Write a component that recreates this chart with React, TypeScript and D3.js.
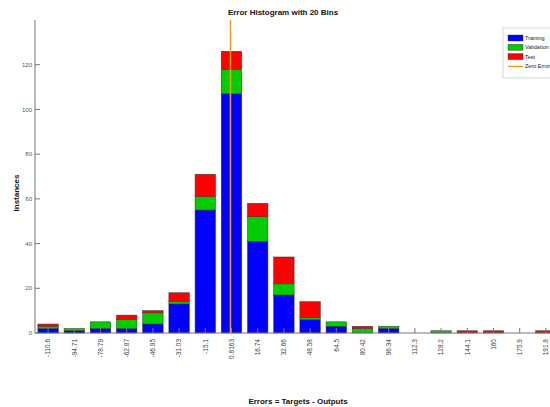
import React from "react";
import * as d3 from "d3";

const binLabels = ["-110.6","-94.71","-78.79","-62.87","-46.95","-31.03","-15.1","0.8163","16.74","32.66","48.58","64.5","80.42","96.34","112.3","128.2","144.1","160","175.9","191.8"];
const binCenters = [-110.6,-94.71,-78.79,-62.87,-46.95,-31.03,-15.1,0.8163,16.74,32.66,48.58,64.5,80.42,96.34,112.3,128.2,144.1,160,175.9,191.8];
const training = [2,1,2,2,4,13,55,107,41,17,6,3,0,2,0,0,0,0,0,0];
const validation = [1,1,3,4,5,1,6,11,11,5,1,2,2,1,0,1,0,0,0,0];
const test = [1,0,0,2,1,4,10,8,6,12,7,0,1,0,0,0,1,1,0,1];
const yTicks = [0,20,40,60,80,100,120];
const seriesNames = ["Training","Validation","Test"];
const seriesColors = ["#0000ff","#00cc00","#ff0000"];
const zeroColor = "#f0a020";

export default function App() {
  const W = 550, H = 407;
  const left = 35, right = 559, top = 20, bottom = 333;
  const x = d3.scaleBand<string>().domain(binLabels).range([left, right]).paddingInner(0.22).paddingOuter(0.11);
  const y = d3.scaleLinear().domain([0, 140]).range([bottom, top]);
  const step = x.step();
  const binW = binCenters[1] - binCenters[0];
  const xv = d3.scaleLinear().domain([binCenters[0], binCenters[0] + binW]).range([x(binLabels[0])! + x.bandwidth() / 2, x(binLabels[0])! + x.bandwidth() / 2 + step]);

  const rows = binLabels.map((b, i) => ({ bin: b, Training: training[i], Validation: validation[i], Test: test[i] }));
  const stack = d3.stack<any>().keys(seriesNames)(rows);
  const font = "Liberation Sans, Arial, sans-serif";

  return (
    <svg width={W} height={H} style={{ position: "absolute", left: 0, top: 0, background: "#fff" }} fontFamily={font}>
      <text x={283} y={15} textAnchor="middle" fontSize={8} fontWeight="bold" fill="#111">Error Histogram with 20 Bins</text>
      {stack.map((s, si) => (
        <g key={si} fill={seriesColors[si]}>
          {s.map((d, i) => d[1] - d[0] > 0 ? (
            <rect key={i} x={x(binLabels[i])} width={x.bandwidth()} y={y(d[1])} height={y(d[0]) - y(d[1])} stroke="#333" strokeWidth={0.5} />
          ) : null)}
        </g>
      ))}
      {/* axes */}
      <line x1={left} x2={left} y1={top} y2={bottom} stroke="#777" strokeWidth={1} />
      <line x1={left} x2={W} y1={bottom} y2={bottom} stroke="#777" strokeWidth={1} />
      {yTicks.map(t => (
        <g key={t}>
          <line x1={left} x2={left + 5} y1={y(t)} y2={y(t)} stroke="#777" />
          <text x={left - 3} y={y(t)} dy="0.35em" textAnchor="end" fontSize={6} fill="#555">{t}</text>
        </g>
      ))}
      {binLabels.map((b, i) => {
        const cx = x(b)! + x.bandwidth() / 2;
        return (
          <g key={b}>
            <line x1={cx} x2={cx} y1={bottom} y2={bottom - 5} stroke="#777" />
            <text transform={`translate(${cx},${bottom + 6}) rotate(-90)`} dy="0.35em" textAnchor="end" fontSize={6.5} fill="#444">{b}</text>
          </g>
        );
      })}
      <line x1={xv(0)} x2={xv(0)} y1={top} y2={bottom} stroke={zeroColor} strokeWidth={1.5} />
      <text transform={`translate(16,193) rotate(-90)`} textAnchor="middle" dy="0.35em" fontSize={8} fontWeight="bold" fill="#111">Instances</text>
      <text x={298} y={404} textAnchor="middle" fontSize={8} fontWeight="bold" fill="#111">Errors = Targets - Outputs</text>
      {/* legend */}
      <rect x={503} y={28} width={60} height={50} fill="#fff" stroke="#ccc" strokeWidth={0.8} />
      {seriesNames.map((n, i) => (
        <g key={n}>
          <rect x={508} y={35 + i * 9.3} width={15} height={6} fill={seriesColors[i]} stroke="#333" strokeWidth={0.4} />
          <text x={525} y={38 + i * 9.3} dy="0.35em" fontSize={5.5} fill="#222">{n}</text>
        </g>
      ))}
      <line x1={508} x2={523} y1={66.5} y2={66.5} stroke={zeroColor} strokeWidth={1.5} />
      <text x={525} y={66.5} dy="0.35em" fontSize={5.5} fill="#222">Zero Error</text>
    </svg>
  );
}
